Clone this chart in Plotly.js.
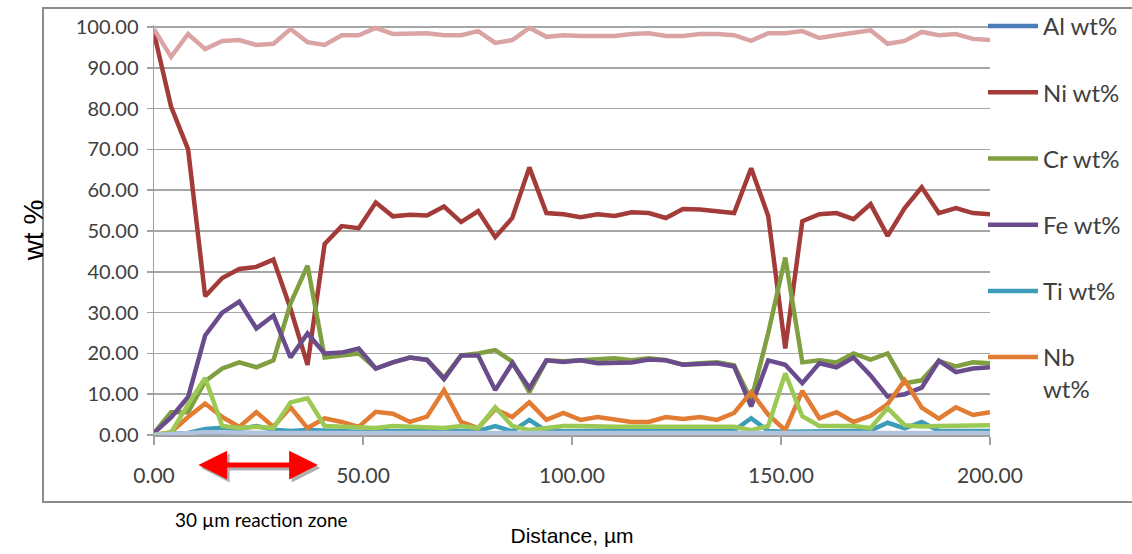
<!DOCTYPE html>
<html>
<head>
<meta charset="utf-8">
<script src="https://cdn.plot.ly/plotly-3.0.1.min.js"></script>
<style>
html,body{margin:0;padding:0;background:#fff;}
#chart{width:1132px;height:554px;}
</style>
</head>
<body>
<div id="chart"></div>
<script>
// Distance along the line scan (µm)
const distance = [0.00, 4.08, 8.16, 12.24, 16.33, 20.41, 24.49, 28.57, 32.65, 36.73,
  40.82, 44.90, 48.98, 53.06, 57.14, 61.22, 65.31, 69.39, 73.47, 77.55,
  81.63, 85.71, 89.80, 93.88, 97.96, 102.04, 106.12, 110.20, 114.29, 118.37,
  122.45, 126.53, 130.61, 134.69, 138.78, 142.86, 146.94, 151.02, 155.10, 159.18,
  163.27, 167.35, 171.43, 175.51, 179.59, 183.67, 187.76, 191.84, 195.92, 200.00];

const alWt = [0, 0.1, 0.2, 0.3, 0.3, 0.3, 0.3, 0.3, 0.3, 0.3,
  0.3, 0.3, 0.3, 0.3, 0.3, 0.3, 0.3, 0.3, 0.3, 0.3,
  0.3, 0.3, 0.3, 0.3, 0.3, 0.3, 0.3, 0.3, 0.3, 0.3,
  0.3, 0.3, 0.3, 0.3, 0.3, 0.3, 0.3, 0.3, 0.3, 0.3,
  0.3, 0.3, 0.3, 0.3, 0.3, 0.3, 0.3, 0.3, 0.3, 0.3];

const niWt = [98.5, 80.5, 70, 34, 38.5, 40.7, 41.2, 43, 31, 17.2,
  46.8, 51.2, 50.7, 57, 53.6, 54, 53.8, 56, 52.2, 54.9,
  48.5, 53.2, 65.6, 54.4, 54.1, 53.4, 54.1, 53.7, 54.6, 54.4,
  53.2, 55.4, 55.3, 54.9, 54.4, 65.4, 53.7, 21.2, 52.4, 54.1,
  54.4, 52.9, 56.6, 48.8, 55.6, 60.7, 54.4, 55.6, 54.4, 54.1];

const crWt = [0.5, 5.6, 5.6, 13.2, 16.3, 17.8, 16.6, 18.3, 32.2, 41.5,
  19, 19.5, 20, 16.3, 17.8, 19, 18.5, 14, 19.5, 20,
  20.8, 18, 10.5, 18.3, 18.1, 18.3, 18.5, 18.8, 18.3, 18.8,
  18.3, 17.3, 17.6, 17.8, 17.1, 8.5, 25, 43.5, 17.8, 18.3,
  17.8, 20, 18.5, 20, 12.7, 13.4, 18.1, 16.8, 17.8, 17.6];

const feWt = [0.5, 4.3, 9.3, 24.4, 30, 32.7, 26.1, 29.3, 19, 24.9,
  20, 20.2, 21.2, 16.3, 17.8, 19, 18.4, 13.7, 19.5, 19.5,
  11, 17.6, 11.5, 18.3, 17.9, 18.3, 17.6, 17.6, 17.8, 18.5,
  18.3, 17.2, 17.3, 17.6, 16.8, 7, 18.3, 17.2, 12.7, 17.6,
  16.6, 19, 14.6, 9.4, 10, 11.6, 18.2, 15.4, 16.3, 16.6];

const tiWt = [0, 0.2, 0.5, 1.5, 1.8, 1.5, 2.2, 1.3, 1.0, 1.2,
  1.0, 0.8, 0.8, 0.9, 1.0, 0.9, 1.0, 1.0, 0.9, 1.0,
  2.2, 0.9, 3.7, 1.0, 0.9, 1.0, 1.0, 1.1, 1.0, 1.0,
  1.1, 1.2, 1.0, 1.0, 1.1, 4.1, 1.0, 0.8, 0.8, 1.0,
  1.0, 1.0, 1.1, 3.0, 1.6, 3.2, 1.0, 0.9, 1.0, 1.0];

const nbWt = [0, 0.7, 4.4, 7.7, 4.4, 2, 5.6, 2, 6.8, 1.7,
  4.1, 3.2, 2, 5.7, 5.2, 3.2, 4.5, 11, 3.2, 1.7,
  6.3, 4.4, 8, 3.7, 5.4, 3.7, 4.4, 3.7, 3.2, 3.2,
  4.4, 3.9, 4.4, 3.7, 5.4, 10.5, 5, 1.2, 10.8, 4.1,
  5.6, 3.2, 4.7, 7.6, 13.4, 6.7, 4, 6.8, 4.9, 5.6];

// Unlabelled series (not shown in the legend of the original)
const series7 = [0, 0.6, 7.5, 14, 2.2, 1.7, 2, 1.7, 8, 9,
  2.2, 2, 1.7, 1.7, 2.2, 2, 2, 1.7, 2.2, 1.7,
  6.8, 2.2, 1.2, 1.7, 2.2, 2.2, 2, 2, 2, 2,
  2, 2, 2, 2, 2, 1.2, 2.2, 15.1, 4.6, 2.2,
  2.2, 2.2, 1.7, 6.6, 2.4, 2.1, 2.2, 2.2, 2.2, 2.4];

const series8 = [0, 0.3, 0.5, 0.7, 0.6, 0.5, 0.6, 0.5, 0.5, 0.5,
  0.5, 0.5, 0.5, 0.5, 0.5, 0.5, 0.5, 0.5, 0.5, 0.5,
  0.5, 0.5, 0.5, 0.5, 0.5, 0.5, 0.5, 0.5, 0.5, 0.5,
  0.5, 0.5, 0.5, 0.5, 0.5, 0.5, 0.5, 0.5, 0.5, 0.5,
  0.5, 0.5, 0.5, 0.5, 0.5, 0.5, 0.5, 0.5, 0.5, 0.5];

const totalWt = [99.5, 92.7, 98.3, 94.6, 96.6, 96.8, 95.6, 95.9, 99.5, 96.3,
  95.6, 98, 98, 99.8, 98.3, 98.5, 98.5, 98, 98, 99,
  96.1, 96.8, 99.8, 97.6, 98, 97.8, 97.8, 97.8, 98.3, 98.5,
  97.8, 97.8, 98.3, 98.3, 98, 96.6, 98.5, 98.5, 99, 97.3,
  98, 98.5, 99.2, 95.9, 96.6, 98.8, 98, 98.3, 97.1, 96.8];

const xTickVals = [0, 50, 100, 150, 200];
const yTickVals = [0, 10, 20, 30, 40, 50, 60, 70, 80, 90, 100];

const legendNames = ['Al wt%', 'Ni wt%', 'Cr wt%', 'Fe wt%', 'Ti wt%', 'Nb<br>wt%'];

function line(y, name, color, show, group) {
  return {
    x: distance, y: y, name: name, type: 'scatter', mode: 'lines',
    line: {color: color, width: 4.5},
    showlegend: show, legendgroup: group
  };
}

const data = [
  line(alWt, legendNames[0], '#4a7ebb', true, 'g1'),
  line(niWt, legendNames[1], '#a33b39', true, 'g2'),
  line(crWt, legendNames[2], '#7f9f40', true, 'g3'),
  line(feWt, legendNames[3], '#6a4c8d', true, 'g4'),
  line(tiWt, legendNames[4], '#3d9db8', true, 'g5'),
  line(nbWt, legendNames[5], '#e27c33', true, 'g6'),
  line(series7, 'Series 7', '#9cc854', false, 'g7'),
  line(series8, 'Series 8', '#b3c3de', false, 'g8'),
  line(totalWt, 'Total', '#dba4a4', false, 'g9')
];

const W = 1132, H = 554;
const L = 154, R = 142, T = 25, B = 119;
const plotW = W - L - R, plotH = H - T - B;
const px2paperX = p => (p - L) / plotW;
const px2paperY = p => (H - B - p) / plotH;

const layout = {
  width: W, height: H,
  margin: {l: L, r: R, t: T, b: B, autoexpand: false},
  paper_bgcolor: '#ffffff', plot_bgcolor: '#ffffff',
  showlegend: true,
  legend: {
    xref: 'container', yref: 'container',
    x: 983 / W, xanchor: 'left', y: 1 - 4 / H, yanchor: 'top',
    font: {family: 'Lato, sans-serif', size: 24, color: '#404040'},
    tracegroupgap: 32, itemwidth: 50, valign: 'top', maxheight: 540,
    bgcolor: 'rgba(0,0,0,0)', traceorder: 'grouped'
  },
  xaxis: {
    range: [0, 200], tickvals: xTickVals, tickformat: '.2f',
    showgrid: false, zeroline: false,
    showline: true, linecolor: '#a0a0a0', linewidth: 1.5,
    ticks: 'outside', ticklen: 8, tickcolor: '#a0a0a0', tickwidth: 1.5,
    ticklabelstandoff: 13,
    tickfont: {family: 'Lato, sans-serif', size: 21, color: '#404040'},
    title: {text: 'Distance, µm', font: {family: 'Liberation Sans, Arial, sans-serif', size: 21, color: '#000'}, standoff: 42}
  },
  yaxis: {
    range: [0, 100.5], tickvals: yTickVals, tickformat: '.2f',
    showgrid: true, gridcolor: '#a6a6a6', gridwidth: 1.5,
    zeroline: false, showline: true, linecolor: '#a0a0a0', linewidth: 1.5,
    ticks: 'outside', ticklen: 6, tickcolor: '#a0a0a0', tickwidth: 1.5,
    ticklabelstandoff: 4,
    tickfont: {family: 'Lato, sans-serif', size: 20, color: '#404040'},
    title: {text: 'wt %', font: {family: 'Liberation Sans, Arial, sans-serif', size: 28, color: '#000'}, standoff: 24}
  },
  shapes: [
    {type: 'rect', xref: 'paper', yref: 'paper',
     x0: px2paperX(43), x1: 1.3, y0: px2paperY(502), y1: px2paperY(8),
     line: {color: '#8c8c8c', width: 2}, fillcolor: 'rgba(0,0,0,0)', layer: 'below'}
  ],
  annotations: [
    {x: 39.8, y: px2paperY(468), xref: 'x', yref: 'paper', ax: -121, ay: 0,
     axref: 'pixel', ayref: 'pixel', text: '', showarrow: true,
     arrowside: 'end+start', arrowhead: 2, arrowsize: 1.15, arrowwidth: 5, arrowcolor: '#b0b0b0'},
    {x: 39.2, y: px2paperY(465), xref: 'x', yref: 'paper', ax: -121, ay: 0,
     axref: 'pixel', ayref: 'pixel', text: '', showarrow: true,
     arrowside: 'end+start', arrowhead: 2, arrowsize: 1.15, arrowwidth: 5, arrowcolor: '#ff0000'},
    {x: 25.6, y: px2paperY(519), xref: 'x', yref: 'paper', showarrow: false,
     text: '30 µm reaction zone', xanchor: 'center', yanchor: 'middle',
     font: {family: 'Lato, sans-serif', size: 19, color: '#000'}}
  ]
};

Plotly.newPlot('chart', data, layout, {displayModeBar: false, staticPlot: true});
</script>
</body>
</html>
